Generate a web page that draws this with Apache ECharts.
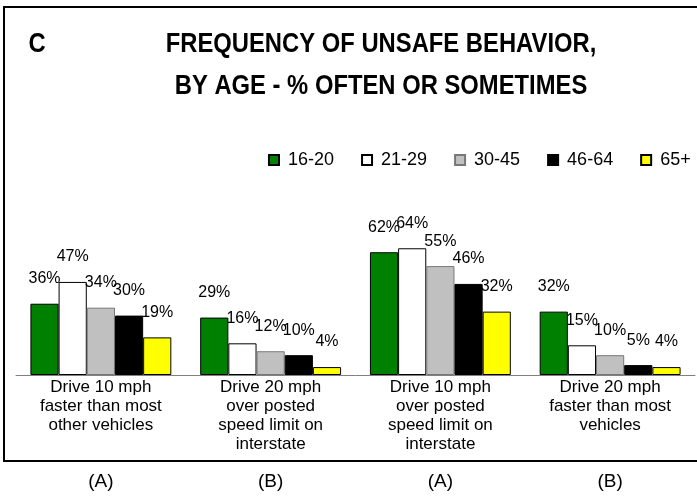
<!DOCTYPE html>
<html>
<head>
<meta charset="utf-8">
<script src="https://cdn.jsdelivr.net/npm/echarts@6/dist/echarts.min.js"></script>
<style>
  html, body { margin: 0; padding: 0; background: #fff; }
  #chart { width: 697px; height: 496px; }
</style>
</head>
<body>
<div id="chart"></div>
<script>
// categories (behaviours) and the group letter printed under each one
const categories = [
  'Drive 10 mph\nfaster than most\nother vehicles',
  'Drive 20 mph\nover posted\nspeed limit on\ninterstate',
  'Drive 10 mph\nover posted\nspeed limit on\ninterstate',
  'Drive 20 mph\nfaster than most\nvehicles'
]
const groups = ['(A)', '(B)', '(A)', '(B)']

// % often or sometimes, by age band
const ageBands = ['16-20', '21-29', '30-45', '46-64', '65+']
const age16to20 = [36, 29, 62, 32]
const age21to29 = [47, 16, 64, 15]
const age30to45 = [34, 12, 55, 10]
const age46to64 = [30, 10, 46, 5]
const age65plus = [19, 4, 32, 4]

const colors = {
  green: '#008000',
  white: '#ffffff',
  gray: '#c0c0c0',
  black: '#000000',
  yellow: '#ffff00'
}
const sans = '"Liberation Sans", Arial, sans-serif'

const chart = echarts.init(document.getElementById('chart'))

const makeSeries = (name, data, color, border) => ({
  name,
  type: 'bar',
  data,
  barGap: '0%',
  barCategoryGap: '17%',
  itemStyle: { color, borderColor: border || '#000', borderWidth: 1 },
  label: {
    show: true,
    position: 'top',
    distance: 17,
    formatter: '{c}%',
    color: '#000',
    fontFamily: sans,
    fontSize: 16
  }
})

const option = {
  animation: false,
  backgroundColor: '#fff',
  graphic: [
    {
      type: 'rect',
      shape: { x: 4, y: 7, width: 710, height: 454 },
      style: { fill: 'none', stroke: '#000', lineWidth: 2 }
    },
    {
      // no narrow font installed, so squeeze the bold title instead
      type: 'text',
      x: 37,
      y: 44,
      scaleX: 0.85,
      style: {
        text: 'C',
        fontFamily: sans,
        fontWeight: 'bold',
        fontSize: 28,
        fill: '#000',
        textAlign: 'center',
        textVerticalAlign: 'middle'
      }
    },
    {
      type: 'text',
      x: 381,
      y: 65,
      scaleX: 0.85,
      style: {
        text: 'FREQUENCY OF UNSAFE BEHAVIOR,\nBY AGE - % OFTEN OR SOMETIMES',
        fontFamily: sans,
        fontWeight: 'bold',
        fontSize: 28,
        lineHeight: 42,
        fill: '#000',
        textAlign: 'center',
        textVerticalAlign: 'middle'
      }
    }
  ],
  legend: {
    left: 268,
    top: 151,
    width: 440,
    padding: 0,
    itemWidth: 10,
    itemHeight: 10,
    itemGap: 27,
    icon: 'rect',
    data: ageBands,
    textStyle: {
      fontFamily: sans,
      fontSize: 18,
      color: '#000',
      padding: [0, 0, 0, 4]
    }
  },
  grid: {
    left: 16,
    right: 2,
    top: 177,
    bottom: 121
  },
  xAxis: [
    {
      type: 'category',
      data: categories,
      axisLine: { lineStyle: { color: '#808080', width: 1 } },
      axisTick: { length: 7, lineStyle: { color: '#808080' } },
      axisLabel: {
        interval: 0,
        margin: 3,
        color: '#000',
        fontFamily: sans,
        fontSize: 17,
        lineHeight: 19
      }
    },
    {
      type: 'category',
      data: groups,
      position: 'bottom',
      offset: 97,
      axisLine: { show: false },
      axisTick: { show: false },
      axisLabel: {
        interval: 0,
        margin: 0,
        color: '#000',
        fontFamily: sans,
        fontSize: 19
      }
    }
  ],
  yAxis: {
    type: 'value',
    min: 0,
    max: 100,
    show: false
  },
  series: [
    makeSeries(ageBands[0], age16to20, colors.green),
    makeSeries(ageBands[1], age21to29, colors.white),
    makeSeries(ageBands[2], age30to45, colors.gray, '#777'),
    makeSeries(ageBands[3], age46to64, colors.black),
    makeSeries(ageBands[4], age65plus, colors.yellow)
  ]
}
chart.setOption(option)
</script>
</body>
</html>
